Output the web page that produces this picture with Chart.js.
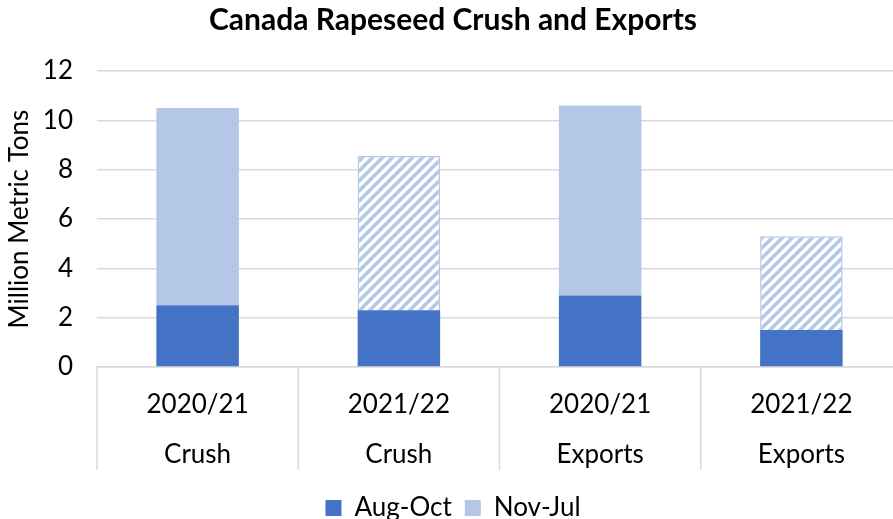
<!DOCTYPE html>
<html>
<head>
<meta charset="utf-8">
<script src="https://cdn.jsdelivr.net/npm/chart.js@4.4.0/dist/chart.umd.min.js"></script>
<style>
  html, body { margin: 0; padding: 0; background: #fff; overflow: hidden; }
  #wrap { width: 902px; height: 519px; position: relative; }
</style>
</head>
<body>
<div id="wrap"><canvas id="c" width="902" height="519"></canvas></div>
<script>
const years = ["2020/21", "2021/22", "2020/21", "2021/22"];
const groups = ["Crush", "Crush", "Exports", "Exports"];
const augOct = [2.5, 2.3, 2.9, 1.5];
const novJul = [8.0, 6.25, 7.7, 3.8];
const projected = [false, true, false, true];
const yTicks = [0, 2, 4, 6, 8, 10, 12];

const DARK = '#4472C4';
const LIGHT = '#B4C7E7';
const GRID = '#d9d9d9';
const FONT = 'Lato, "Open Sans", sans-serif';

function makeHatch() {
  const s = 10;
  const pc = document.createElement('canvas');
  pc.width = s; pc.height = s;
  const g = pc.getContext('2d');
  g.fillStyle = '#ffffff';
  g.fillRect(0, 0, s, s);
  g.strokeStyle = LIGHT;
  g.lineWidth = 3.4;
  g.beginPath();
  g.moveTo(-2, s + 2); g.lineTo(s + 2, -2);
  g.moveTo(-3, 3); g.lineTo(3, -3);
  g.moveTo(s - 3, s + 3); g.lineTo(s + 3, s - 3);
  g.stroke();
  return document.getElementById('c').getContext('2d').createPattern(pc, 'repeat');
}
const hatch = makeHatch();

const labels = years.map((y, i) => [y, groups[i]]);

// vertical category separators below the x axis, placed from the x scale
const separators = {
  id: 'separators',
  afterDraw(chart) {
    const xs = chart.scales.x;
    const n = chart.data.labels.length;
    const ctx = chart.ctx;
    const bottom = chart.chartArea.bottom;
    ctx.save();
    ctx.strokeStyle = GRID;
    ctx.lineWidth = 1.5;
    for (let i = 0; i <= n; i++) {
      let x;
      if (i === 0) x = xs.getPixelForValue(0) - (xs.getPixelForValue(1) - xs.getPixelForValue(0)) / 2;
      else if (i === n) x = xs.getPixelForValue(n - 1) + (xs.getPixelForValue(n - 1) - xs.getPixelForValue(n - 2)) / 2;
      else x = (xs.getPixelForValue(i - 1) + xs.getPixelForValue(i)) / 2;
      ctx.beginPath();
      ctx.moveTo(x, bottom);
      ctx.lineTo(x, bottom + 103);
      ctx.stroke();
    }
    ctx.restore();
  }
};

new Chart(document.getElementById('c'), {
  type: 'bar',
  data: {
    labels: labels,
    datasets: [
      {
        label: 'Aug-Oct',
        data: augOct,
        backgroundColor: DARK,
        borderColor: DARK,
        borderWidth: 0
      },
      {
        label: 'Nov-Jul',
        data: novJul,
        backgroundColor: (ctx) => (ctx.type === 'data' && projected[ctx.dataIndex]) ? hatch : LIGHT,
        borderColor: LIGHT,
        borderWidth: (ctx) => (ctx.type === 'data' && projected[ctx.dataIndex]) ? 1.5 : 0
      }
    ]
  },
  plugins: [separators],
  options: {
    responsive: false,
    animation: false,
    layout: { padding: { left: 4, right: 0, top: 0, bottom: -12 } },
    datasets: { bar: { categoryPercentage: 1.0, barPercentage: 0.41 } },
    plugins: {
      title: {
        display: true,
        text: 'Canada Rapeseed Crush and Exports',
        color: '#000',
        font: { family: FONT, size: 30, weight: 'bold', lineHeight: 1.2 },
        padding: { top: 2, bottom: 33 }
      },
      legend: {
        position: 'bottom',
        labels: {
          color: '#000',
          font: { family: FONT, size: 26 },
          boxWidth: 16,
          boxHeight: 16,
          padding: 13,
          generateLabels: (chart) => chart.data.datasets.map((ds, i) => ({
            text: ds.label,
            fillStyle: i === 0 ? DARK : LIGHT,
            strokeStyle: i === 0 ? DARK : LIGHT,
            lineWidth: 0,
            hidden: false,
            datasetIndex: i,
            fontColor: '#000'
          }))
        }
      },
      tooltip: { enabled: false }
    },
    scales: {
      x: {
        stacked: true,
        grid: { display: false },
        border: { display: true, color: GRID, width: 1.5 },
        ticks: {
          color: '#000',
          font: { family: FONT, size: 26, lineHeight: 1.92 },
          padding: 5,
          maxRotation: 0,
          autoSkip: false
        },
        afterFit: (axis) => { axis.height = 115; }
      },
      y: {
        stacked: true,
        min: 0,
        max: 12,
        afterBuildTicks: (axis) => { axis.ticks = yTicks.map(v => ({ value: v })); },
        grid: { color: GRID, lineWidth: 1.5, drawTicks: false },
        border: { display: false },
        ticks: {
          color: '#000',
          font: { family: FONT, size: 26 },
          padding: 24
        },
        title: {
          display: true,
          text: 'Million Metric Tons',
          color: '#000',
          font: { family: FONT, size: 26 },
          padding: { top: 0, bottom: 6 }
        },
        afterFit: (axis) => { axis.width = 93; }
      }
    }
  }
});
</script>
</body>
</html>
